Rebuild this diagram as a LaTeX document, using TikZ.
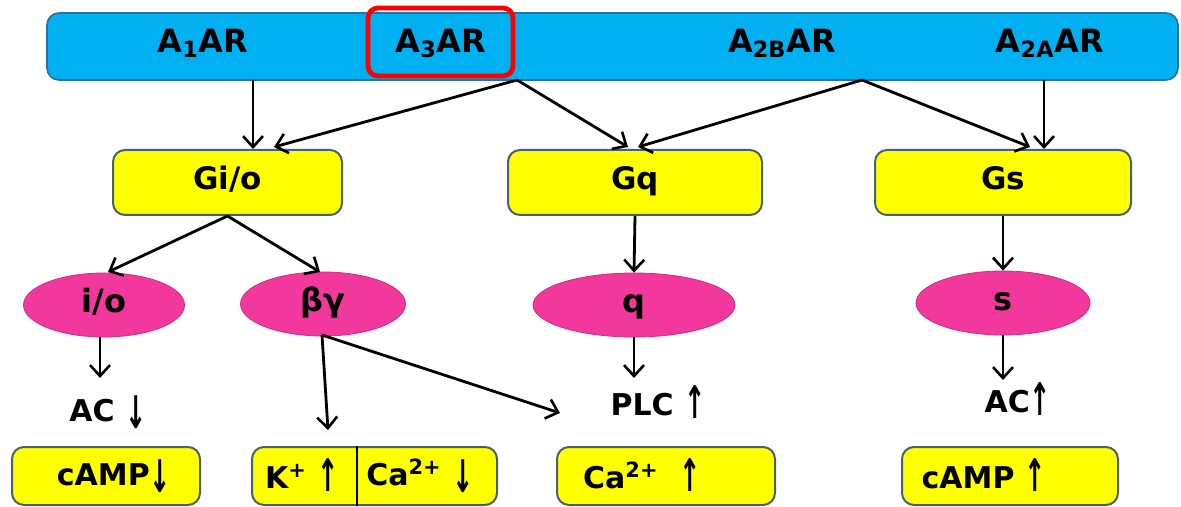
\documentclass[tikz,border=0pt]{standalone}
\usepackage{graphicx}
\usepackage{fontspec}
\setmainfont{DejaVu Sans}
\usetikzlibrary{arrows.meta,shapes.geometric}
\definecolor{barblue}{HTML}{00B0F0}
\definecolor{barline}{HTML}{2F6E9E}
\definecolor{gyellow}{HTML}{FFFF00}
\definecolor{gline}{HTML}{4A6070}
\definecolor{epink}{HTML}{F2389C}
\definecolor{eline}{HTML}{D02A84}
\newcommand{\dnarr}{{\bfseries\raisebox{-0.45ex}{\scalebox{0.85}[1.5]{↓}}}}
\newcommand{\uparr}{{\bfseries\raisebox{-0.2ex}{\scalebox{0.85}[1.5]{↑}}}}
\begin{document}
\begin{tikzpicture}[x=0.5pt,y=-0.5pt,
  lbl/.style={font=\fontsize{16}{18}\selectfont\bfseries, inner sep=0pt, text height=0.73em, text depth=0pt},
  eff/.style={font=\fontsize{15}{18}\selectfont\bfseries, inner sep=0pt, text height=0.73em, text depth=0pt},
  bar/.style={draw=barline, fill=barblue, rounded corners=6pt, line width=0.8pt, minimum width=565.5pt, minimum height=33.5pt, inner sep=0pt},
  selbox/.style={draw=red, line width=2.4pt, rounded corners=5pt, minimum width=72.5pt, minimum height=34pt, inner sep=0pt},
  gbox/.style={draw=gline, fill=gyellow, rounded corners=6pt, line width=1pt, minimum height=32.5pt, inner sep=0pt, font=\fontsize{15.5}{18}\selectfont\bfseries, text height=0.73em, text depth=0pt},
  ell/.style={ellipse, fill=epink, draw=eline, line width=0.4pt, minimum height=32pt, inner sep=0pt, font=\fontsize{16}{18}\selectfont\bfseries, text height=0.73em, text depth=0pt},
  arr/.style={line width=1.4pt, -{Straight Barb[length=5.5pt,width=10pt,line width=1.3pt]}}
]
\useasboundingbox (0,0) rectangle (1181,507);
% receptor bar
\node[bar] (bar) at (612.5,46.5) {};
\node[selbox] (a3box) at (440.5,42) {};
\node[lbl] (a3) at (441,45) {A\textsubscript{3}AR};
\node[lbl] (a1) at (203,45) {A\textsubscript{1}AR};
\node[lbl] (a2b) at (782,45) {A\textsubscript{2B}AR};
\node[lbl] (a2a) at (1050,45) {A\textsubscript{2A}AR};
\coordinate (b1) at (253,80);
\coordinate (b2) at (517,80);
\coordinate (b3) at (862,80);
\coordinate (b4) at (1044,80);
% G proteins
\node[gbox, minimum width=114.5pt] (gio) at (227.5,182.5) {Gi/o};
\node[gbox, minimum width=127pt] (gq) at (635,182.5) {Gq};
\node[gbox, minimum width=128pt] (gs) at (1003,182.5) {Gs};
\draw[arr] (b1) -- (gio.north -| b1);
\draw[arr] (b2) -- (274,147);
\draw[arr] (b2) -- (628,147);
\draw[arr] (b3) -- (638,147);
\draw[arr] (b3) -- (1030,147);
\draw[arr] (b4) -- (gs.north -| b4);
% subunits
\node[ell, minimum width=80.5pt] (io) at (104,305) {i/o};
\node[ell, minimum width=82.5pt] (bg) at (323,304) {βγ};
\node[ell, minimum width=101pt] (q) at (634,305) {q};
\node[ell, minimum width=87pt] (s) at (1003,303) {s};
\draw[arr] (gio.south) -- (108,272);
\draw[arr] (gio.south) -- (320,272);
\draw[arr] (gq.south) -- (q.north);
\draw[arr] (gs.south) -- (s.north);
% effectors
\node[eff] (acdn) at (108,414) {AC \dnarr};
\node[eff] (plc) at (658,408) {PLC \uparr};
\node[eff] (acup) at (1018,405) {AC\uparr};
\coordinate (bgo) at (322,335);
\draw[arr] (io.south -| 100,0) -- (100,378);
\draw[arr] (bgo) -- (328,430);
\draw[arr] (bgo) -- (560,413);
\draw[arr] (q.south) -- (634,378);
\draw[arr] (s.south) -- (1003,380);
% second messengers
\node[gbox, minimum width=94pt, minimum height=29pt] (camp1) at (106,476) {};
\node[eff] (camp1t) at (114,478) {cAMP\dnarr};
\node[gbox, minimum width=122.5pt, minimum height=29pt] (kca) at (374.5,476) {};
\draw[line width=1.4pt] (kca.north -| 357,0) -- (kca.south -| 357,0);
\node[eff] (kt) at (302,481) {K\textsuperscript{+} \uparr};
\node[eff] (cat) at (420,478) {Ca\textsuperscript{2+} \dnarr};
\node[gbox, minimum width=109pt, minimum height=29pt] (ca) at (666,476) {};
\node[eff] (cat2) at (642,481) {Ca\textsuperscript{2+}\ \ \uparr};
\node[gbox, minimum width=108pt, minimum height=29pt] (camp2) at (1010,476) {};
\node[eff] (camp2t) at (984,481) {cAMP \uparr};
\end{tikzpicture}
\end{document}
